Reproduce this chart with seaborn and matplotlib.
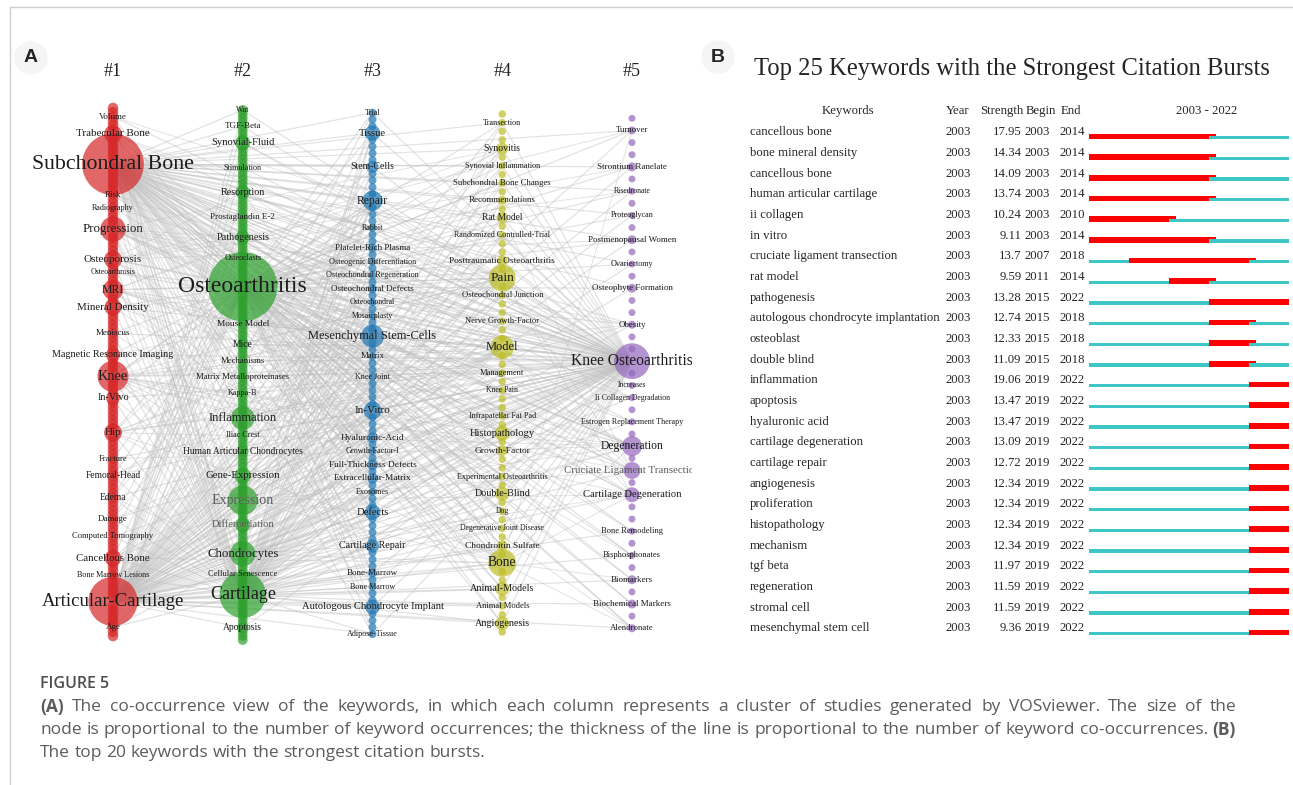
import matplotlib
matplotlib.use("Agg")
import matplotlib.pyplot as plt
import matplotlib.transforms as mtransforms
from matplotlib.collections import LineCollection
from matplotlib.patches import Ellipse
import numpy as np
import pandas as pd
import seaborn as sns

# ---------------- panel A : keyword clusters ----------------
# keyword, occurrences, order of the node inside its column
c1_kw = ["Volume", "Trabecular Bone", "Subchondral Bone", "Risk", "Radiography", "Progression",
         "Osteoporosis", "Osteoarthrosis", "MRI", "Mineral Density", "Meniscus",
         "Magnetic Resonance Imaging", "Knee", "In-Vivo", "Hip", "Fracture", "Femoral-Head", "Edema",
         "Damage", "Computed Tomography", "Cancellous Bone", "Bone Marrow Lesions",
         "Articular-Cartilage", "Age"]
c1_occ = [5, 20, 238, 5, 2, 40, 20, 1, 26, 18, 5, 12, 60, 12, 20, 3, 8, 8, 5, 3, 17, 2, 151, 5]
c1_order = [2, 6, 13, 20, 23, 28, 35, 38, 42, 46, 52, 57, 62, 67, 75, 81, 85, 90, 95, 99, 104, 108, 114, 120]

c2_kw = ["Wnt", "TGF-Beta", "Synovial-Fluid", "Stimulation", "Resorption", "Prostaglandin E-2",
         "Pathogenesis", "Osteoclasts", "Osteoarthritis", "Mouse Model", "Mice", "Mechanisms",
         "Matrix Metalloproteinases", "Kappa-B", "Inflammation", "Iliac Crest",
         "Human Articular Chondrocytes", "Gene-Expression", "Expression", "Differentiation",
         "Chondrocytes", "Cellular Senescence", "Cartilage", "Apoptosis"]
c2_occ = [1, 5, 14, 2, 12, 5, 12, 2, 299, 7, 8, 4, 4, 2, 35, 2, 8, 17, 55, 14, 40, 3, 134, 8]
c2_order = [0, 4, 8, 14, 20, 26, 31, 36, 43, 52, 57, 61, 65, 69, 75, 79, 83, 89, 95, 101, 108, 113, 118, 126]

c3_kw = ["Trial", "Tissue", "Stem-Cells", "Repair", "Rabbit", "Platelet-Rich Plasma",
         "Osteogenic Differentiation", "Osteochondral Regeneration", "Osteochondral Defects",
         "Osteochondral", "Mosaicplasty", "Mesenchymal Stem-Cells", "Matrix", "Knee Joint", "In-Vitro",
         "Hyaluronic-Acid", "Growth-Factor-I", "Full-Thickness Defects", "Extracellular-Matrix",
         "Exosomes", "Defects", "Cartilage Repair", "Bone-Marrow", "Bone Marrow",
         "Autologous Chondrocyte Implant", "Adipose-Tissue"]
c3_occ = [2, 15, 9, 25, 2, 5, 2, 2, 5, 1, 1, 33, 4, 2, 20, 7, 2, 7, 7, 2, 15, 11, 5, 2, 14, 2]
c3_order = [0, 3, 8, 13, 17, 20, 22, 24, 26, 28, 30, 33, 36, 39, 44, 48, 50, 52, 54, 56, 59, 64,
            68, 70, 73, 77]

c4_kw = ["Transection", "Synovitis", "Synovial Inflammation", "Subchondral Bone Changes",
         "Recommendations", "Rat Model", "Randomized Controlled-Trial", "Posttraumatic Osteoarthritis",
         "Pain", "Osteochondral Junction", "Nerve Growth-Factor", "Model", "Management", "Knee Pain",
         "Infrapatellar Fat Pad", "Histopathology", "Growth-Factor", "Experimental Osteoarthritis",
         "Double-Blind", "Dog", "Degenerative Joint Disease", "Chondroitin Sulfate", "Bone",
         "Animal-Models", "Animal Models", "Angiogenesis"]
c4_occ = [2, 9, 2, 4, 5, 8, 2, 7, 45, 3, 3, 35, 3, 1, 2, 14, 7, 2, 12, 1, 1, 7, 48, 12, 3, 12]
c4_order = [1, 4, 6, 8, 10, 12, 14, 17, 19, 21, 24, 27, 30, 32, 35, 37, 39, 42, 44, 46, 48, 50,
            52, 55, 57, 59]

c5_kw = ["Turnover", "Strontium Ranelate", "Risedronate", "Proteoglycan", "Postmenopausal Women",
         "Ovariectomy", "Osteophyte Formation", "Obesity", "Knee Osteoarthritis", "Increases",
         "Ii Collagen Degradation", "Estrogen Replacement Therapy", "Degeneration",
         "Cruciate Ligament Transection", "Cartilage Degeneration", "Bone Remodeling",
         "Bisphosphonates", "Biomarkers", "Biochemical Markers", "Alendronate"]
c5_occ = [4, 5, 1, 2, 5, 2, 5, 4, 80, 1, 1, 2, 25, 18, 14, 3, 3, 5, 5, 4]
c5_order = [1, 4, 6, 8, 10, 12, 14, 17, 20, 22, 23, 25, 27, 29, 31, 34, 36, 38, 40, 42]

n_nodes = [123, 130, 78, 61, 43]
filler_occ = [7, 6, 4, 3.5, 3]

# co-occurrence links (hub keyword -> partners)
links = {
    "Osteoarthritis": c1_kw + c3_kw + c4_kw + c5_kw,
    "Subchondral Bone": c2_kw + c3_kw + c4_kw + c5_kw,
    "Articular-Cartilage": c2_kw + c3_kw + c4_kw + c5_kw,
    "Knee Osteoarthritis": c1_kw + c2_kw + c3_kw + c4_kw,
    "Cartilage": c1_kw + c3_kw + c4_kw,
    "Knee": ["Osteoarthritis", "Cartilage", "Pain", "Model", "Repair", "Synovitis", "Management",
             "Bone", "Degeneration", "Obesity", "Cartilage Repair", "Autologous Chondrocyte Implant",
             "Mesenchymal Stem-Cells", "Double-Blind", "Expression", "Inflammation", "Histopathology"],
    "Progression": ["Cartilage", "Pain", "Model", "Bone", "Inflammation", "Expression", "Synovitis",
                    "Degeneration", "Obesity", "Histopathology", "Chondrocytes", "Pathogenesis"],
    "MRI": ["Cartilage", "Pain", "Synovitis", "Bone", "Degeneration", "Cartilage Repair", "Defects",
            "Repair", "Infrapatellar Fat Pad", "Management", "Knee Pain"],
    "Hip": ["Cartilage", "Pain", "Bone", "Degeneration", "Expression", "Model", "Management"],
    "Osteoporosis": ["Bone", "Alendronate", "Bisphosphonates", "Risedronate", "Strontium Ranelate",
                     "Postmenopausal Women", "Turnover", "Resorption", "Cartilage"],
    "Pain": ["Inflammation", "Expression", "Mineral Density", "Magnetic Resonance Imaging",
             "Synovial-Fluid", "Mice", "In-Vivo", "Trabecular Bone"],
    "Model": ["Expression", "Inflammation", "Chondrocytes", "Mice", "Mouse Model", "Resorption",
              "Gene-Expression", "Cancellous Bone", "Damage"],
    "Bone": ["Expression", "Chondrocytes", "Resorption", "Turnover", "Degeneration", "Alendronate",
             "Biomarkers", "Mineral Density", "Repair", "Mesenchymal Stem-Cells", "Cancellous Bone"],
    "Expression": ["Repair", "Mesenchymal Stem-Cells", "In-Vitro", "Defects", "Tissue", "Stem-Cells",
                   "Degeneration", "Cartilage Degeneration", "In-Vivo", "Age"],
    "Chondrocytes": ["Repair", "Mesenchymal Stem-Cells", "In-Vitro", "Defects", "Cartilage Repair",
                     "Tissue", "Histopathology", "Degeneration", "Cartilage Degeneration", "Edema"],
    "Inflammation": ["Synovitis", "Obesity", "Degeneration", "Repair", "Mesenchymal Stem-Cells",
                     "Femoral-Head", "Meniscus"],
    "Mesenchymal Stem-Cells": ["Differentiation", "Degeneration", "Hip", "Femoral-Head",
                               "Trabecular Bone", "Cancellous Bone"],
    "Repair": ["Differentiation", "Hip", "Volume", "Edema", "Damage"],
    "Degeneration": ["MRI", "Hip", "Mineral Density", "Risk", "Fracture"],
    "Cruciate Ligament Transection": ["Model", "Rat Model", "Expression", "Progression", "Knee",
                                      "Pain", "Mice"],
    "Cartilage Degeneration": ["Model", "Bone", "Pain", "Progression", "Knee", "Chondrocytes"],
}

# ---------------- panel B : citation bursts ----------------
burst_kw = ["cancellous bone", "bone mineral density", "cancellous bone", "human articular cartilage",
            "ii collagen", "in vitro", "cruciate ligament transection", "rat model", "pathogenesis",
            "autologous chondrocyte implantation", "osteoblast", "double blind", "inflammation",
            "apoptosis", "hyaluronic acid", "cartilage degeneration", "cartilage repair",
            "angiogenesis", "proliferation", "histopathology", "mechanism", "tgf beta",
            "regeneration", "stromal cell", "mesenchymal stem cell"]
burst_year = [2003] * 25
burst_strength = [17.95, 14.34, 14.09, 13.74, 10.24, 9.11, 13.7, 9.59, 13.28, 12.74, 12.33, 11.09,
                  19.06, 13.47, 13.47, 13.09, 12.72, 12.34, 12.34, 12.34, 12.34, 11.97, 11.59, 11.59,
                  9.36]
burst_begin = [2003, 2003, 2003, 2003, 2003, 2003, 2007, 2011, 2015, 2015, 2015, 2015] + [2019] * 13
burst_end = [2014, 2014, 2014, 2014, 2010, 2014, 2018, 2014, 2022, 2018, 2018, 2018] + [2022] * 13
span_start, span_end = 2003, 2022

caption = [
    [("(A)", True), ("The co-occurrence view of the keywords, in which each column represents a cluster "
                     "of studies generated by VOSviewer. The size of the", False)],
    [("node is proportional to the number of keyword occurrences; the thickness of the line is "
      "proportional to the number of keyword co-occurrences.", False), ("(B)", True)],
    [("The top 20 keywords with the strongest citation bursts.", False)],
]
caption_justify = [True, True, False]

# ---------------- drawing ----------------
W, H = 1293, 785
sns.set_theme(style="white")
plt.rcParams["font.family"] = ["Liberation Serif", "DejaVu Serif"]

fig = plt.figure(figsize=(W / 100, H / 100), dpi=100)
renderer = fig.canvas.get_renderer()

# frame of the page
fig.add_artist(plt.Line2D([10 / W, 10 / W], [0, 1 - 7 / H], color="#cfcfcf", lw=1))
fig.add_artist(plt.Line2D([10 / W, 1], [1 - 7 / H, 1 - 7 / H], color="#cfcfcf", lw=1))

# panel A axes: x = cluster number, y = pixel rows (inverted)
ax_l, ax_r, ax_t, ax_b = 12, 692, 30, 660
col0, col_step = 113, 129.75
axA = fig.add_axes([ax_l / W, 1 - ax_b / H, (ax_r - ax_l) / W, (ax_b - ax_t) / H])
axA.set_xlim(1 + (ax_l - col0) / col_step, 1 + (ax_r - col0) / col_step)
axA.set_ylim(ax_b, ax_t)
axA.axis("off")

col_top = [108, 110, 112.7, 114, 118.3]
col_bot = [636, 640, 634, 632, 628.3]
clusters = [(c1_kw, c1_occ, c1_order), (c2_kw, c2_occ, c2_order), (c3_kw, c3_occ, c3_order),
            (c4_kw, c4_occ, c4_order), (c5_kw, c5_occ, c5_order)]

rows = []
for ci, (kws, occs, orders) in enumerate(clusters):
    lab = {o: (k, v) for k, v, o in zip(kws, occs, orders)}
    step = (col_bot[ci] - col_top[ci]) / (n_nodes[ci] - 1)
    for r in range(n_nodes[ci]):
        name, occ = lab.get(r, ("", 0))
        rows.append(dict(cluster=ci + 1, cname=f"c{ci + 1}", y=col_top[ci] + r * step,
                         occ=max(occ, filler_occ[ci]), label=name, occ_label=occ))
nodes = pd.DataFrame(rows)
pos = {r.label: (r.cluster, r.y) for r in nodes.itertuples() if r.label}

# edges
main_hubs = ("Osteoarthritis", "Subchondral Bone", "Articular-Cartilage", "Knee Osteoarthritis", "Cartilage")
seen, segs, widths = set(), [], []
for hub, partners in links.items():
    for p in partners:
        key = frozenset((hub, p))
        if p == hub or key in seen or p not in pos:
            continue
        seen.add(key)
        segs.append([pos[hub], pos[p]])
        widths.append(0.9 if hub in main_hubs else 0.7)
axA.add_collection(LineCollection(segs, colors="#bdbdbd", linewidths=widths, alpha=0.42, zorder=1))

palette = {"c1": "tab:red", "c2": "tab:green", "c3": "tab:blue", "c4": "tab:olive", "c5": "tab:purple"}
sns.scatterplot(data=nodes.sort_values("occ", kind="stable"), x="cluster", y="y", hue="cname",
                palette=palette, size="occ", sizes=(0, 8.29 * 300), size_norm=(0, 300),
                alpha=0.7, linewidth=0, legend=False, ax=axA, zorder=2)
axA.set_xlabel("")
axA.set_ylabel("")

faded = ("Expression", "Differentiation", "Cruciate Ligament Transection")
for r in nodes[nodes.label != ""].itertuples():
    fs = min(17.2, 4.9 + 0.7 * np.sqrt(r.occ_label))
    axA.text(r.cluster, r.y, r.label, fontsize=fs, ha="center", va="center",
             color="#5e5e5e" if r.label in faded else "#1c1c1c", clip_on=True, zorder=3)

for c in range(1, 6):
    axA.text(c, 72, f"#{c}", fontsize=13, ha="center", va="center", color="#222222")

# panel letters
for letter, (lx, ly) in (("A", (31, 58)), ("B", (718, 57))):
    fig.add_artist(Ellipse((lx / W, 1 - ly / H), 32 / W, 32 / H, transform=fig.transFigure,
                           color="#f5f5f5", zorder=0))
    fig.text(lx / W, 1 - ly / H, letter, fontsize=14, fontweight="bold",
             family=["Liberation Sans", "DejaVu Sans"], ha="center", va="center")

# panel B axes: x = year, y = row
row0, row_h = 132.3, 20.667
b_left, b_right, b_top, b_bot = 1088.7, 1288.7, 90, 650
axB = fig.add_axes([b_left / W, 1 - b_bot / H, (b_right - b_left) / W, (b_bot - b_top) / H])
axB.set_xlim(span_start, span_end + 1)
axB.set_ylim((b_bot - row0) / row_h, (b_top - row0) / row_h)
axB.axis("off")

cyan, red = "#3fc6c6", "#ff0000"
off, hc, hr = 7 / row_h, 3.3 / row_h, 5.5 / row_h
for i in range(len(burst_kw)):
    yb = i + off
    b, e = burst_begin[i], burst_end[i] + 1
    if b > span_start:
        axB.barh(yb - hc, b - span_start, left=span_start, height=hc, align="edge", color=cyan, lw=0)
    axB.barh(yb - hr, min(e + 0.75, span_end + 1) - b, left=b, height=hr, align="edge", color=red, lw=0)
    if e <= span_end:
        axB.barh(yb - hc, span_end + 1 - e, left=e, height=hc, align="edge", color=cyan, lw=0)

tB = mtransforms.blended_transform_factory(fig.transFigure, axB.transData)
tfs = 9.2
hy = (111 - row0) / row_h
axB.text(848 / W, hy, "Keywords", transform=tB, fontsize=tfs, ha="center", va="center")
axB.text(957.5 / W, hy, "Year", transform=tB, fontsize=tfs, ha="center", va="center")
axB.text(1023.5 / W, hy, "Strength", transform=tB, fontsize=tfs, ha="right", va="center")
axB.text(1026 / W, hy, "Begin", transform=tB, fontsize=tfs, ha="left", va="center")
axB.text(1061 / W, hy, "End", transform=tB, fontsize=tfs, ha="left", va="center")
axB.text(1206.7 / W, hy, f"{span_start} - {span_end}", transform=tB, fontsize=tfs, ha="center",
         va="center")
for i in range(len(burst_kw)):
    axB.text(750 / W, i, burst_kw[i], transform=tB, fontsize=tfs, ha="left", va="center")
    axB.text(957.8 / W, i, str(burst_year[i]), transform=tB, fontsize=tfs, ha="center", va="center")
    axB.text(1021.5 / W, i, str(burst_strength[i]), transform=tB, fontsize=tfs, ha="right", va="center")
    axB.text(1037.5 / W, i, str(burst_begin[i]), transform=tB, fontsize=tfs, ha="center", va="center")
    axB.text(1072 / W, i, str(burst_end[i]), transform=tB, fontsize=tfs, ha="center", va="center")

fig.text(1012 / W, 1 - 69 / H, "Top 25 Keywords with the Strongest Citation Bursts", fontsize=17.7,
         ha="center", va="center")

# caption (justified lines like the journal layout)
cap_font = ["Open Sans", "DejaVu Sans"]
cap_fs, cap_col = 12.5, "#5c5c5c"
cap_x0, cap_x1 = 40, 1236
fig.text(cap_x0 / W, 1 - 684 / H, "FIGURE 5", fontsize=11.5, family=cap_font, fontweight="semibold",
         color="#4d4d4d", ha="left", va="center")


def word_width(word, bold):
    t = fig.text(0, 0, word, fontsize=cap_fs, family=cap_font, fontweight="bold" if bold else "normal")
    w = t.get_window_extent(renderer).width
    t.remove()
    return w


space_w = word_width("a a", False) - 2 * word_width("a", False)
for line, justify, y_px in zip(caption, caption_justify, (707, 730, 753)):
    words = [(w, bold) for txt, bold in line for w in txt.split(" ")]
    ws = [word_width(w, b) for w, b in words]
    gap = (cap_x1 - cap_x0 - sum(ws)) / (len(words) - 1) if justify else space_w
    gap = max(gap, 0.8 * space_w)
    x_px = cap_x0
    for (w, b), wd in zip(words, ws):
        fig.text(x_px / W, 1 - y_px / H, w, fontsize=cap_fs, family=cap_font,
                 fontweight="bold" if b else "normal", color=cap_col, ha="left", va="center")
        x_px += wd + gap

fig.savefig("out.png", dpi=100)
